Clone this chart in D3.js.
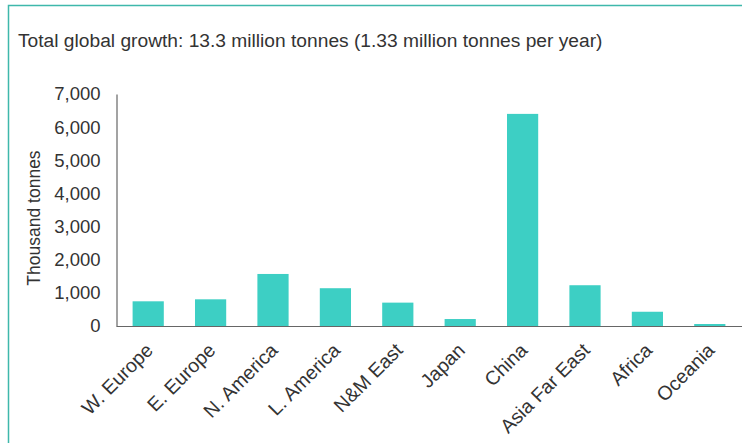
<!DOCTYPE html>
<html>
<head>
<meta charset="utf-8">
<script src="https://cdn.jsdelivr.net/npm/d3@7"></script>
<style>
  html, body { margin: 0; padding: 0; background: #fff; }
  svg { display: block; font-family: "Liberation Sans", Arial, sans-serif; }
</style>
</head>
<body>
<svg id="chart" width="742" height="443"></svg>
<script>
const titleText = "Total global growth: 13.3 million tonnes (1.33 million tonnes per year)";
const yAxisLabel = "Thousand tonnes";
const regions = ["W. Europe", "E. Europe", "N. America", "L. America", "N&M East", "Japan", "China", "Asia Far East", "Africa", "Oceania"];
const growth = [745, 805, 1570, 1140, 705, 210, 6400, 1230, 430, 60];
const yTicks = [0, 1000, 2000, 3000, 4000, 5000, 6000, 7000];

const svg = d3.select("#chart");
const textColor = "#333333";
const barColor = "#3dcfc4";
const frameColor = "#3fb8ab";
const fontFam = "Liberation Sans, Arial, sans-serif";

// frame
svg.append("rect")
  .attr("x", 8.5).attr("y", 5.5)
  .attr("width", 760).attr("height", 460)
  .attr("fill", "none")
  .attr("stroke", frameColor)
  .attr("stroke-width", 1.5);

// title
svg.append("text")
  .attr("x", 18).attr("y", 47)
  .attr("fill", textColor)
  .style("font-size", "19.2px")
  .text(titleText);

const x = d3.scaleBand().domain(regions).range([117, 741]).paddingInner(0.5).paddingOuter(0.25);
const y = d3.scaleLinear().domain([0, 7000]).range([326, 94]);

// bars
svg.append("g").selectAll("rect")
  .data(regions)
  .join("rect")
  .attr("x", d => x(d))
  .attr("width", x.bandwidth())
  .attr("y", (d, i) => y(growth[i]))
  .attr("height", (d, i) => y(0) - y(growth[i]))
  .attr("fill", barColor);

// y axis
const yAxis = svg.append("g")
  .attr("transform", "translate(116.5,0)")
  .call(d3.axisLeft(y).tickValues(yTicks).tickSize(0).tickPadding(16)
    .tickFormat(d3.format(",")));
yAxis.select(".domain").attr("stroke", "#666").attr("stroke-width", 1.2);
yAxis.selectAll("text").attr("fill", textColor).style("font-size", "18.5px").style("font-family", fontFam);

// x axis
const xAxis = svg.append("g")
  .attr("transform", "translate(0,326.5)")
  .call(d3.axisBottom(x).tickSize(0).tickPadding(0));
xAxis.select(".domain").attr("d", "M116.5,0H742").attr("stroke", "#666").attr("stroke-width", 1.2);
xAxis.selectAll("text")
  .attr("fill", textColor)
  .style("font-size", "19.5px")
  .style("font-family", fontFam)
  .attr("text-anchor", "end")
  .attr("dy", "0")
  .attr("y", 0)
  .attr("transform", "translate(6,25) rotate(-45)");

// y axis label
svg.append("text")
  .attr("transform", "translate(40,218) rotate(-90)")
  .attr("text-anchor", "middle")
  .attr("fill", textColor)
  .style("font-size", "17.5px")
  .text(yAxisLabel);
</script>
</body>
</html>
